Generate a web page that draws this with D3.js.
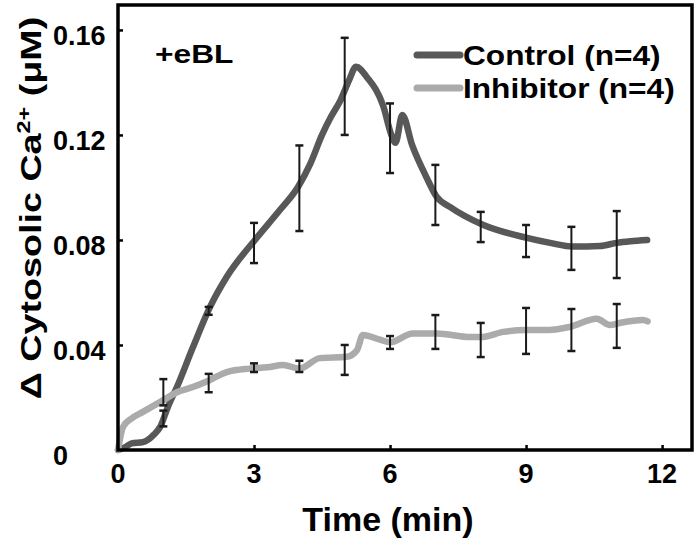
<!DOCTYPE html>
<html><head><meta charset="utf-8">
<script src="https://cdn.jsdelivr.net/npm/d3@7"></script>
<style>
html,body{margin:0;padding:0;background:#fff;}
text{font-family:"Liberation Sans",Arial,sans-serif;font-weight:bold;fill:#000;}
</style></head>
<body><svg id="c" width="698" height="540"></svg>
<script>
const xTicks = [0, 3, 6, 9, 12];
const xTickLabels = ["0", "3", "6", "9", "12"];
const yTicks = [0, 0.04, 0.08, 0.12, 0.16];
const yTickLabels = ["0", "0.04", "0.08", "0.12", "0.16"];
const seriesNames = ["Control (n=4)", "Inhibitor (n=4)"];

const controlTime  = [0,0.15,0.3,0.55,0.8,0.93,1.1,1.3,1.65,2.03,2.4,3.02,3.57,3.97,4.24,4.5,4.7,4.9,5.1,5.25,5.49,5.85,6.03,6.12,6.27,6.49,6.8,7.03,7.32,8.06,9.02,9.53,10.04,10.63,11.0,11.3,11.67];
const controlValue = [0,0.001,0.0025,0.003,0.006,0.0088,0.0164,0.024,0.039,0.0545,0.066,0.08,0.0914,0.1002,0.109,0.12,0.127,0.133,0.141,0.146,0.142,0.131,0.12,0.117,0.1276,0.116,0.104,0.0964,0.0926,0.0857,0.0808,0.0789,0.0775,0.0777,0.0789,0.0795,0.080];

const inhibitorTime  = [0,0.11,0.3,0.55,1.0,1.3,1.65,2.03,2.4,2.9,3.3,3.64,4.0,4.45,5.05,5.27,5.4,5.78,6.0,6.5,7.03,7.77,8.0,8.5,9.0,9.5,9.97,10.56,10.85,11.07,11.58,11.68];
const inhibitorValue = [0,0.0088,0.012,0.0145,0.019,0.022,0.024,0.0267,0.0297,0.031,0.0315,0.0324,0.031,0.035,0.0355,0.038,0.0438,0.042,0.041,0.0444,0.0444,0.043,0.043,0.045,0.0457,0.0457,0.0469,0.050,0.0476,0.0484,0.0495,0.049];

const errTime = [1,2,3,4,5,6,7,8,9,10,11];
const controlLow  = [0.009,0.0515,0.0712,0.0834,0.120,0.1055,0.0857,0.0792,0.0735,0.0686,0.0655];
const controlHigh = [0.015,0.0545,0.0865,0.116,0.157,0.132,0.1086,0.0907,0.0857,0.085,0.091];
const inhibitorLow  = [0.017,0.022,0.0297,0.0297,0.0286,0.0385,0.0385,0.0354,0.0366,0.0377,0.0389];
const inhibitorHigh = [0.027,0.029,0.033,0.034,0.040,0.0434,0.0514,0.0484,0.0541,0.0537,0.0556];

const svg = d3.select("#c");
const L = 118, R = 692, T = 5, B = 450;
const x = d3.scaleLinear().domain([0, 12.66]).range([L, R]);
const y = d3.scaleLinear().domain([0, 0.1695]).range([B, T]);

const ctrlColor = "#585858", inhColor = "#ababab";
const line = d3.line().x(d => x(d[0])).y(d => y(d[1])).curve(d3.curveMonotoneX);

svg.append("path").datum(d3.zip(controlTime, controlValue))
  .attr("d", line).attr("fill","none").attr("stroke",ctrlColor)
  .attr("stroke-width",6.5).attr("stroke-linejoin","round").attr("stroke-linecap","round");
svg.append("path").datum(d3.zip(inhibitorTime, inhibitorValue))
  .attr("d", line).attr("fill","none").attr("stroke",inhColor)
  .attr("stroke-width",6.5).attr("stroke-linejoin","round").attr("stroke-linecap","round");

function errBars(lo, hi) {
  const g = svg.append("g").attr("stroke","#1a1a1a").attr("stroke-width",2);
  errTime.forEach((t,i) => {
    const cx = x(t);
    g.append("line").attr("x1",cx).attr("x2",cx).attr("y1",y(lo[i])).attr("y2",y(hi[i]));
    g.append("line").attr("x1",cx-4).attr("x2",cx+4).attr("y1",y(lo[i])).attr("y2",y(lo[i])).attr("stroke-width",2.5);
    g.append("line").attr("x1",cx-4).attr("x2",cx+4).attr("y1",y(hi[i])).attr("y2",y(hi[i])).attr("stroke-width",2.5);
  });
}
errBars(controlLow, controlHigh);
errBars(inhibitorLow, inhibitorHigh);

// axes
const xAxis = d3.axisBottom(x).tickValues(xTicks.slice(1)).tickSize(-5).tickFormat("");
svg.append("g").attr("transform",`translate(0,${B})`).call(xAxis)
  .call(g => g.select(".domain").remove())
  .call(g => g.selectAll("line").attr("stroke","#000").attr("stroke-width",2.5));
const yAxis = d3.axisLeft(y).tickValues(yTicks.slice(1)).tickSize(-5).tickFormat("");
svg.append("g").attr("transform",`translate(${L},0)`).call(yAxis)
  .call(g => g.select(".domain").remove())
  .call(g => g.selectAll("line").attr("stroke","#000").attr("stroke-width",2.5));

svg.append("rect").attr("x",L).attr("y",T).attr("width",R-L).attr("height",B-T)
  .attr("fill","none").attr("stroke","#000").attr("stroke-width",3.5);

// tick labels
svg.append("g").selectAll("text").data(xTicks).join("text")
  .attr("x", d => x(d)).attr("y", B + 33).attr("text-anchor","middle")
  .style("font-size","27px").text((d,i) => xTickLabels[i]);
svg.append("g").selectAll("text").data(yTicks).join("text")
  .attr("x", 53).attr("y", d => y(d) + 15).attr("text-anchor","start")
  .style("font-size","27px").text((d,i) => yTickLabels[i]);

// axis titles
svg.append("text").attr("x", 388).attr("y", 531).attr("text-anchor","middle")
  .style("font-size","34px").text("Time (min)");
const yt = svg.append("text").attr("transform","translate(41,208) rotate(-90) scale(1.3,1)")
  .attr("text-anchor","middle").style("font-size","29px");
yt.append("tspan").text("Δ Cytosolic  Ca");
yt.append("tspan").attr("dy",-11).style("font-size","18px").text("2+");
yt.append("tspan").attr("dy",11).text(" (μM)");

// annotation
svg.append("text").attr("transform","translate(155,63) scale(1.22,1)").style("font-size","26px").text("+eBL");

// legend
const leg = svg.append("g");
[ctrlColor, inhColor].forEach((c,i) => {
  const ly = 55 + i*33;
  leg.append("line").attr("x1",417).attr("x2",460).attr("y1",ly).attr("y2",ly)
    .attr("stroke",c).attr("stroke-width",7).attr("stroke-linecap","round");
  leg.append("text").attr("transform",`translate(463,${ly+10}) scale(1.13,1)`).style("font-size","28px").text(seriesNames[i]);
});
</script></body></html>
